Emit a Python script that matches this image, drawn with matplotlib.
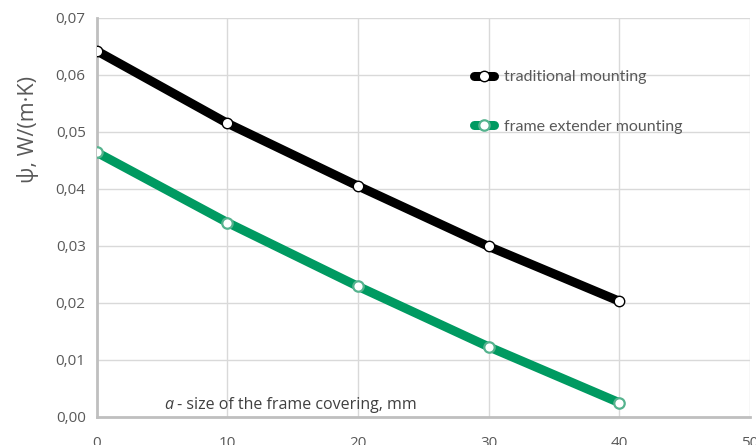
import matplotlib
matplotlib.use("Agg")
import matplotlib.pyplot as plt
from matplotlib.ticker import FuncFormatter, MultipleLocator

# frame covering size, mm
a_mm = [0, 10, 20, 30, 40]
# linear thermal transmittance, W/(m*K)
psi_traditional = [0.0642, 0.0515, 0.0405, 0.0299, 0.0203]
psi_extender = [0.0464, 0.0341, 0.0229, 0.0123, 0.0025]

labels = ["traditional mounting", "frame extender mounting"]

black = "#000000"
green = "#009A61"
green_edge = "#55B38E"
grey_txt = "#595959"

plt.rcParams["font.family"] = ["Open Sans", "DejaVu Sans"]

fig = plt.figure(figsize=(7.56, 4.45), dpi=100)
ax = fig.add_axes([0.128, 0.063, 0.864, 0.897])

ax.plot(a_mm, psi_traditional, color=black, lw=6.5, solid_capstyle="round",
        marker="o", ms=7.5, mfc="white", mec=black, mew=1.0,
        label=labels[0], zorder=3)
ax.plot(a_mm, psi_extender, color=green, lw=6.5, solid_capstyle="round",
        marker="o", ms=7.5, mfc="white", mec=green_edge, mew=1.6,
        label=labels[1], zorder=3)

ax.set_xlim(0, 50)
ax.set_ylim(0, 0.07)
ax.xaxis.set_major_locator(MultipleLocator(10))
ax.yaxis.set_major_locator(MultipleLocator(0.01))
ax.yaxis.set_major_formatter(FuncFormatter(lambda v, p: f"{v:.2f}".replace(".", ",")))

ax.grid(True, color="#D9D9D9", lw=1.0, zorder=0)
ax.set_axisbelow(True)
for s in ["top", "right"]:
    ax.spines[s].set_visible(False)
for s in ["left", "bottom"]:
    ax.spines[s].set_color("#BFBFBF")
    ax.spines[s].set_linewidth(2.0)
ax.tick_params(length=0, labelsize=11, colors=grey_txt, pad=8)
ax.tick_params(axis="x", pad=14)

fig.text(0.037, 0.71, "ψ, W/(m·K)", rotation=90, fontsize=15.5,
         color=grey_txt, ha="center", va="center")

t1 = ax.text(5.15, 0.0007, "a", style="italic", fontsize=11.5,
             color="#404040", va="bottom", ha="left")
ax.annotate(" - size of the frame covering, mm", xy=(1, 0), xycoords=t1,
            va="bottom", ha="left", fontsize=11.5, color="#404040")

leg = ax.legend(loc="upper left", bbox_to_anchor=(0.555, 0.905), frameon=False,
                fontsize=11.5, labelspacing=2.2, handlelength=1.3,
                handletextpad=0.6, markerscale=1.0)
for txt in leg.get_texts():
    txt.set_color(grey_txt)
    txt.set_fontfamily(["Lato", "DejaVu Sans"])

fig.savefig("out.png", dpi=100)
